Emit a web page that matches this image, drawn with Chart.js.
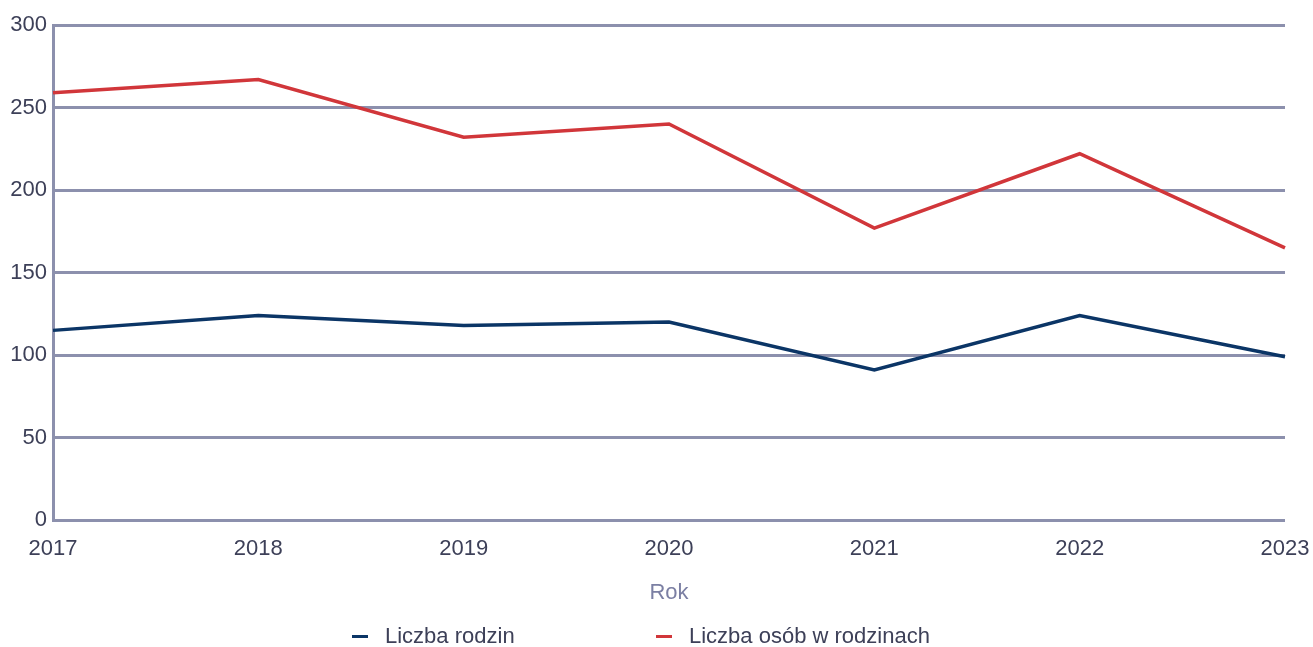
<!DOCTYPE html>
<html lang="pl">
<head>
<meta charset="utf-8">
<title>Liczba rodzin</title>
<script src="https://cdn.jsdelivr.net/npm/chart.js@4/dist/chart.umd.min.js"></script>
<style>
  body { margin: 0; background: #fff; font-family: "Liberation Sans", Arial, sans-serif; }
  #wrap { position: relative; width: 1313px; height: 647px; }
  #legend { position: absolute; top: 622px; left: 0; width: 1313px; height: 28px; }
  .item { position: absolute; top: 0; font-size: 22px; color: #3d4058; line-height: 28px; }
  .item span.mark { display: inline-block; width: 16px; height: 3px; vertical-align: middle; margin-right: 17px; position: relative; top: -1px; }
</style>
</head>
<body>
<div id="wrap">
  <canvas id="lineChart" width="1313" height="647"></canvas>
  <div id="legend">
    <div class="item" style="left:352px"><span class="mark" style="background:#0b3566"></span>Liczba rodzin</div>
    <div class="item" style="left:656px"><span class="mark" style="background:#d1363a"></span>Liczba osób w rodzinach</div>
  </div>
</div>
<script>
var years = ["2017", "2018", "2019", "2020", "2021", "2022", "2023"];
var rodziny = [115, 124, 118, 120, 91, 124, 99];
var osoby = [259, 267, 232, 240, 177, 222, 165];

var gridColor = "#8c90ad";
var textColor = "#3d4058";

var ctx = document.getElementById("lineChart").getContext("2d");
var chart = new Chart(ctx, {
  type: "line",
  data: {
    labels: years,
    datasets: [
      {
        label: "Liczba rodzin",
        data: rodziny,
        borderColor: "#0b3566",
        borderWidth: 3.5,
        pointRadius: 0,
        tension: 0,
        fill: false
      },
      {
        label: "Liczba osób w rodzinach",
        data: osoby,
        borderColor: "#d1363a",
        borderWidth: 3.5,
        pointRadius: 0,
        tension: 0,
        fill: false
      }
    ]
  },
  options: {
    responsive: false,
    animation: false,
    layout: { padding: { top: 25, right: 28, bottom: 41, left: 0 } },
    plugins: {
      legend: { display: false },
      tooltip: { enabled: false }
    },
    scales: {
      x: {
        offset: false,
        afterFit: function (s) { s.paddingRight = 0; s.paddingLeft = 0; },
        grid: { display: false, drawTicks: false },
        border: { display: false },
        ticks: {
          color: textColor,
          font: { family: "Liberation Sans", size: 22 },
          padding: 16,
          maxRotation: 0
        },
        title: {
          display: true,
          text: "Rok",
          color: "#7b7fa3",
          font: { family: "Liberation Sans", size: 22 },
          padding: { top: 1, bottom: 0 }
        }
      },
      y: {
        min: 0,
        max: 300,
        afterFit: function (s) { s.width = 53; },
        grid: { color: gridColor, lineWidth: 3, drawTicks: false },
        border: { display: true, color: gridColor, width: 3 },
        ticks: {
          stepSize: 50,
          color: textColor,
          font: { family: "Liberation Sans", size: 22 },
          padding: 6
        }
      }
    }
  }
});
</script>
</body>
</html>
